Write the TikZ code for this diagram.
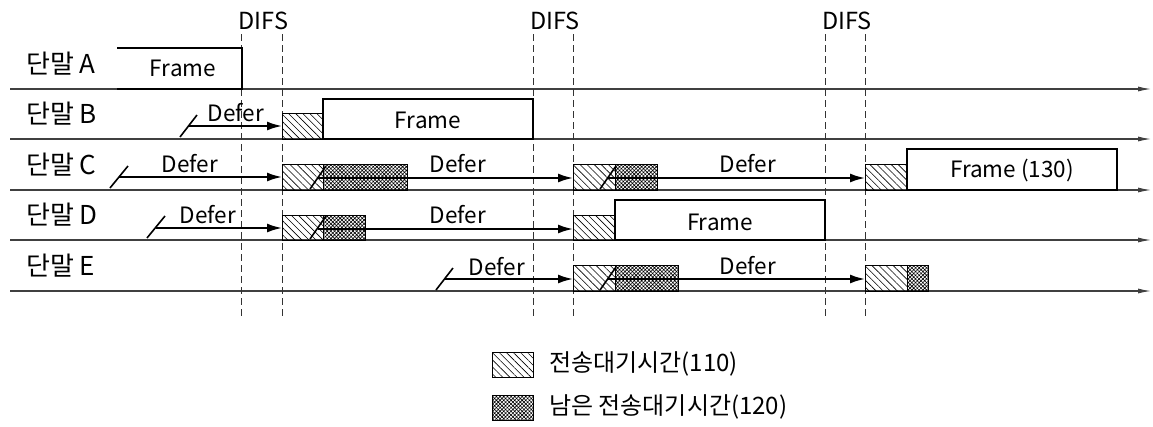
\documentclass[tikz,border=0pt]{standalone}
\usepackage{fontspec}
\setmainfont{Noto Sans CJK KR}
\usetikzlibrary{arrows.meta,patterns.meta}
\begin{document}
\begin{tikzpicture}[x=1pt,y=-1pt,
  axis/.style={line width=1.1pt,draw=black!75,-{Latex[length=13pt,width=5pt]}},
  difs/.style={line width=0.7pt,dash pattern=on 7pt off 4pt,draw=black!80},
  defer/.style={line width=1.9pt,-{Latex[length=15pt,width=9pt]}},
  cut/.style={line width=1.6pt},
  framebox/.style={line width=2.6pt,fill=white},
  hatchbox/.style={line width=0.8pt,pattern={Lines[angle=-45,distance=5pt,line width=0.6pt]}},
  crossbox/.style={line width=0.8pt,pattern={Hatch[angle=45,distance=2.6pt,line width=0.6pt]}},
  lab/.style={font=\fontsize{26}{28}\selectfont,inner sep=0pt},
  top/.style={font=\fontsize{23.5}{25}\selectfont,inner sep=0pt},
  txt/.style={font=\fontsize{22.5}{24}\selectfont,inner sep=0pt},
  leg/.style={font=\fontsize{24}{26}\selectfont,inner sep=0pt}]
\useasboundingbox (0,0) rectangle (1153,426);

% time axes
\foreach \y/\s in {89/A,139/B,190/C,240/D,291/E}{
  \draw[axis] (10,\y) -- (1151,\y);
  \node[lab,anchor=west] (lab\s) at (26,\y-25) {단말 \s};
}

% DIFS
\foreach \a/\b in {241/282,533/573,825/865}{
  \draw[difs] (\a,34) -- (\a,318);
  \draw[difs] (\b,34) -- (\b,318);
  \node[top] at ({(\a+\b)/2+2},21) {DIFS};
}

% A
\draw[framebox,fill=none] (117,48) -- (242,48) -- (242,89) -- (117,89);
\node[txt] (frA) at (183,68) {Frame};

% B
\draw[defer] (189,126) -- (282,126);
\draw[cut] (180,137) -- (197,115);
\node[txt] at (236,113) {Defer};
\draw[hatchbox] (282,113) rectangle (323,139);
\draw[framebox] (323,99) rectangle (533,139);
\node[txt] (frB) at (428,120) {Frame};

% C
\draw[defer] (119,177) -- (282,177);
\draw[cut] (110,188) -- (128,166);
\node[txt] at (190,164) {Defer};
\draw[hatchbox] (282,164) rectangle (323,190);
\draw[crossbox] (323,164) rectangle (407,190);
\draw[defer] (318,178) -- (573,178);
\draw[cut] (310,189) -- (326,166);
\node[txt] at (458,164) {Defer};
\draw[hatchbox] (573,164) rectangle (615,190);
\draw[crossbox] (615,164) rectangle (657,190);
\draw[defer] (608,178) -- (865,178);
\draw[cut] (600,189) -- (616,166);
\node[txt] at (748,164) {Defer};
\draw[hatchbox] (865,164) rectangle (907,190);
\draw[framebox] (907,149) rectangle (1117,190);
\node[txt] (frC) at (1012,170) {Frame (130)};

% D
\draw[defer] (156,228) -- (282,228);
\draw[cut] (147,238) -- (165,216);
\node[txt] at (208,215) {Defer};
\draw[hatchbox] (282,215) rectangle (323,240);
\draw[crossbox] (323,215) rectangle (365,240);
\draw[defer] (318,229) -- (573,229);
\draw[cut] (310,239) -- (326,216);
\node[txt] at (458,215) {Defer};
\draw[hatchbox] (573,215) rectangle (615,240);
\draw[framebox] (615,200) rectangle (825,240);
\node[txt] (frD) at (720,222) {Frame};

% E
\draw[defer] (444,279) -- (573,279);
\draw[cut] (436,290) -- (453,268);
\node[txt] at (497,267) {Defer};
\draw[hatchbox] (573,265) rectangle (615,291);
\draw[crossbox] (615,265) rectangle (678,291);
\draw[defer] (608,279) -- (865,279);
\draw[cut] (600,290) -- (616,267);
\node[txt] at (748,266) {Defer};
\draw[hatchbox] (865,265) rectangle (907,291);
\draw[crossbox] (907,265) rectangle (928,291);

% legend
\draw[hatchbox] (492,352) rectangle (533,377);
\node[leg,anchor=west] (leg1) at (549,364) {전송대기시간(110)};
\draw[crossbox] (492,395) rectangle (533,420);
\node[leg,anchor=west] (leg2) at (549,407) {남은 전송대기시간(120)};
\end{tikzpicture}
\end{document}
